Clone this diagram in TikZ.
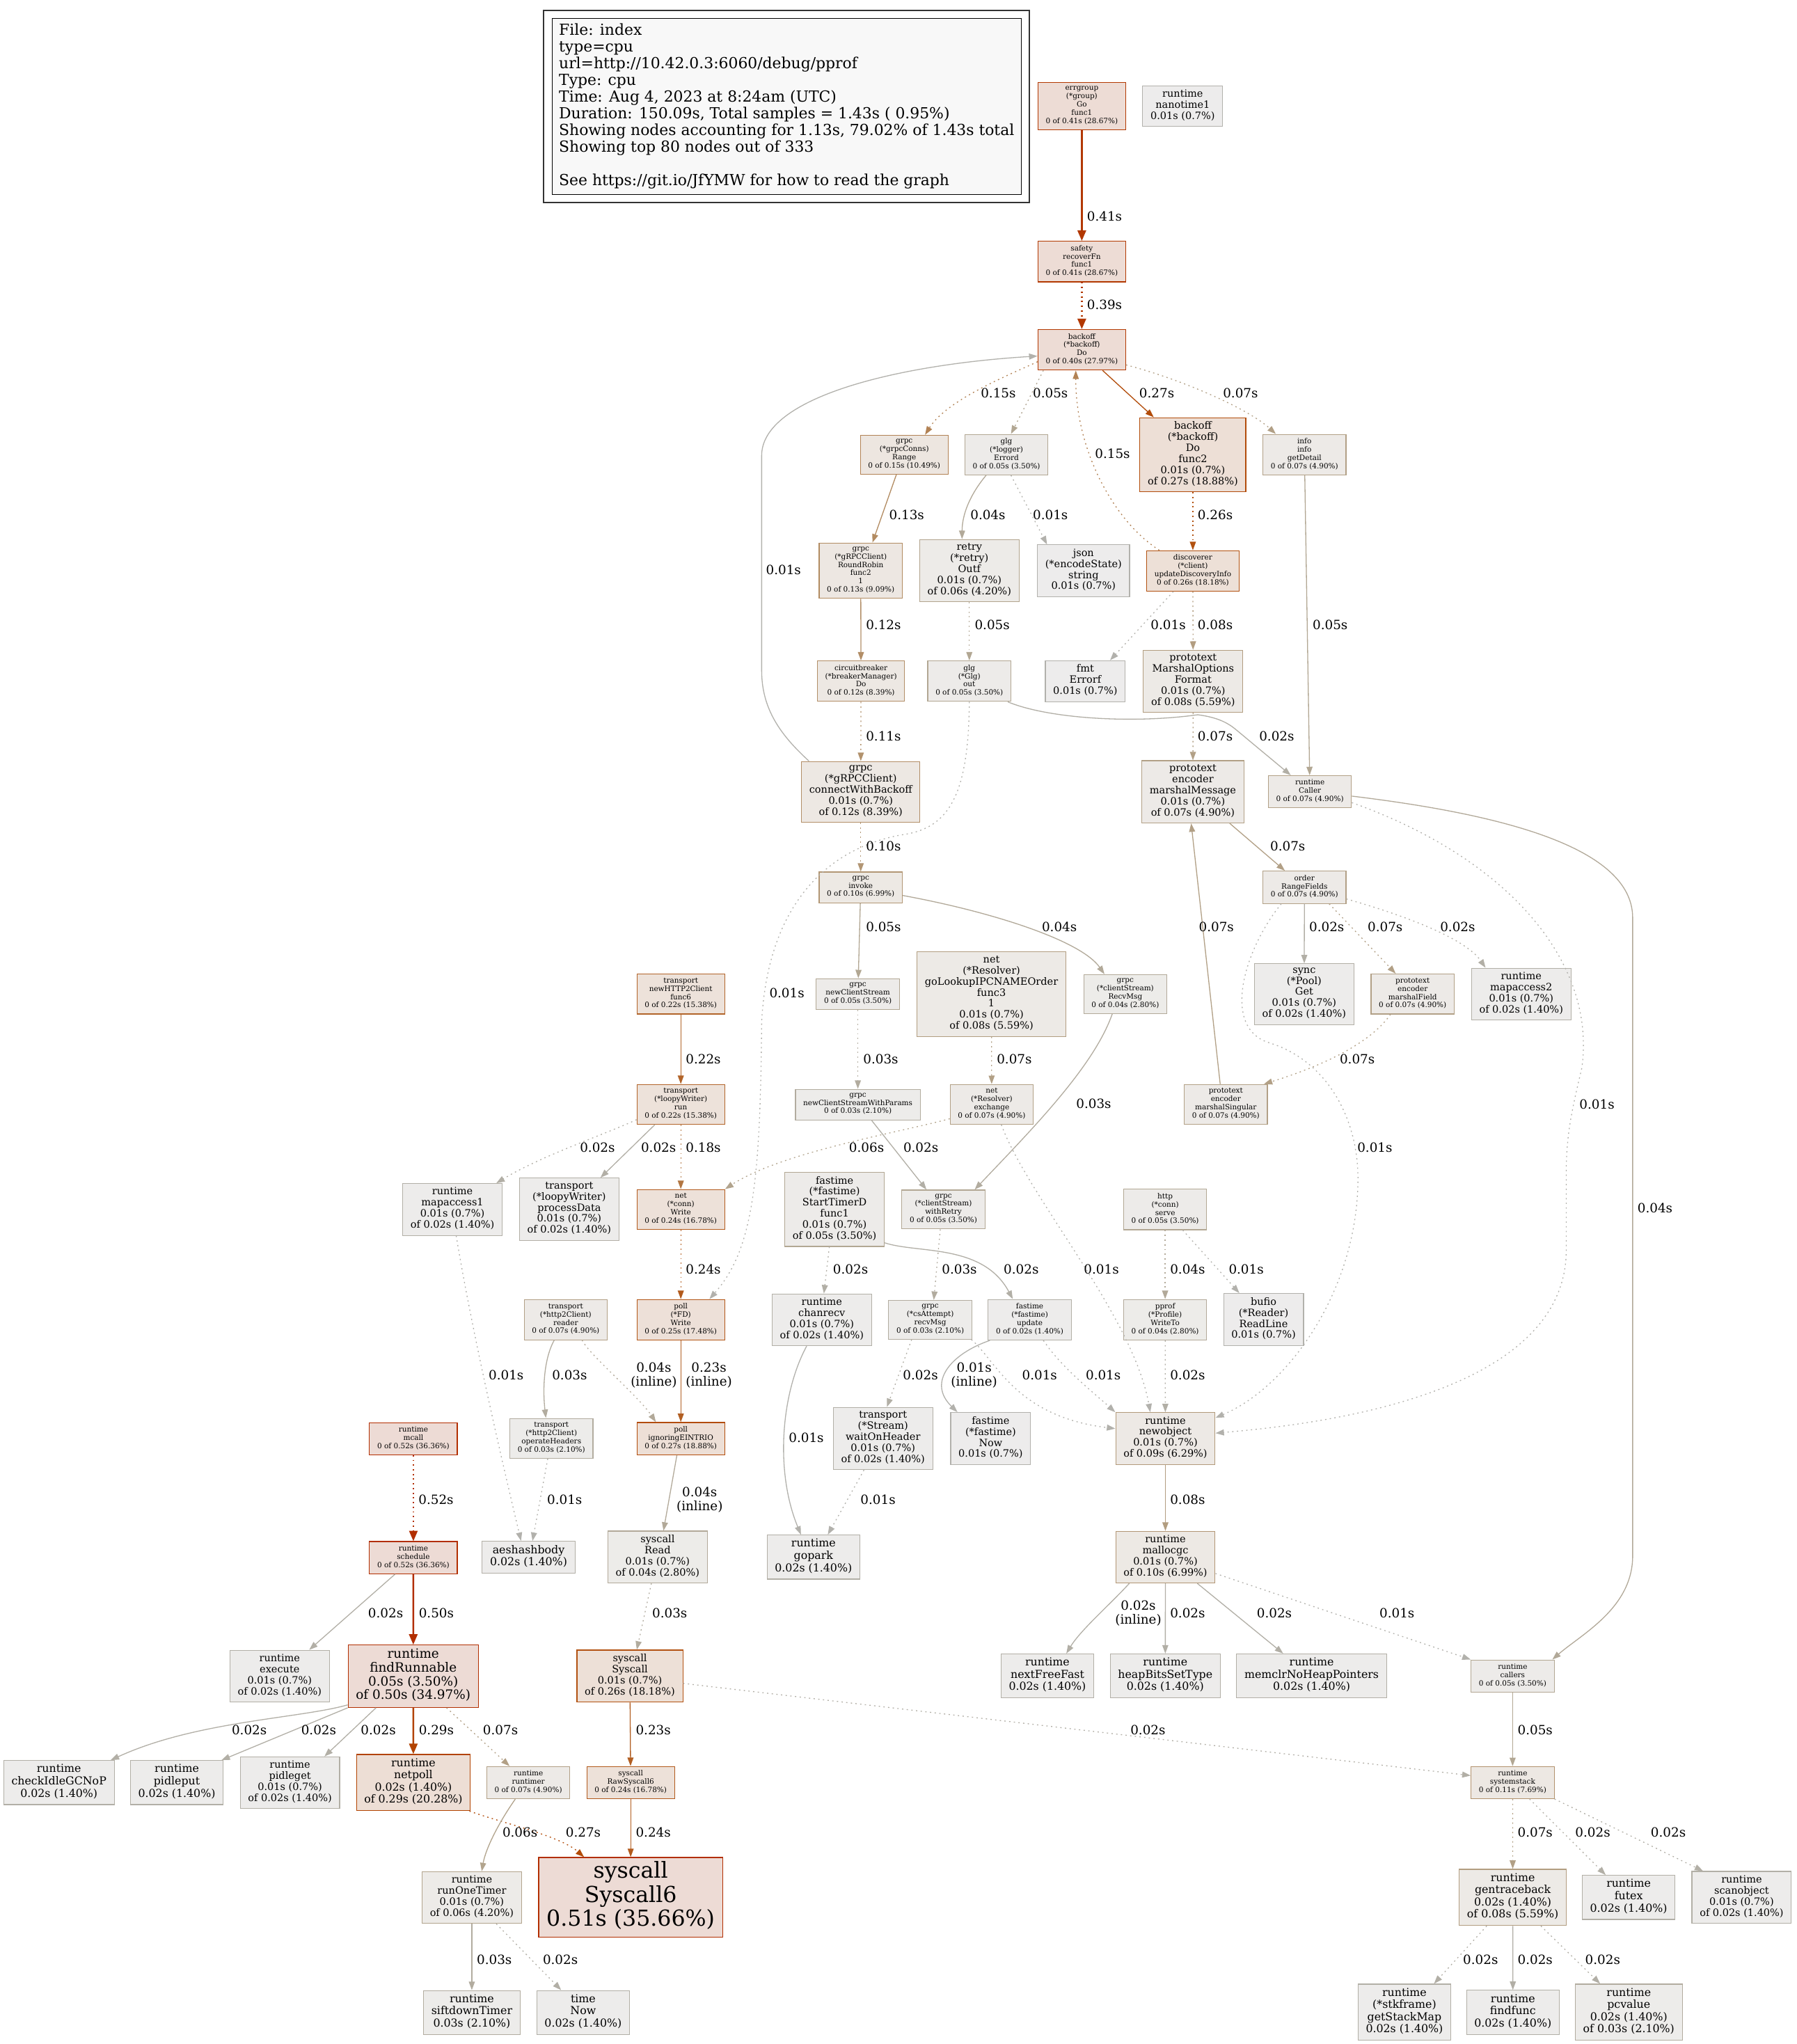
\documentclass[tikz,border=0pt]{standalone}
\usepackage{fontspec}
\setmainfont{DejaVu Serif}
\usetikzlibrary{arrows.meta,fit}

% heat colours: ln = border / edge, bg = fill, named by share of total
\definecolor{ln36}{HTML}{B22E00} \definecolor{bg36}{HTML}{EDDBD5}
\definecolor{ln28}{HTML}{B23800} \definecolor{bg28}{HTML}{EDDCD5}
\definecolor{ln20}{HTML}{B24300} \definecolor{bg20}{HTML}{EDDED5}
\definecolor{ln19}{HTML}{B24C0A} \definecolor{bg19}{HTML}{EDDFD6}
\definecolor{ln18}{HTML}{B25110} \definecolor{bg18}{HTML}{EDE0D7}
\definecolor{ln17}{HTML}{B25616} \definecolor{bg17}{HTML}{EDE0D8}
\definecolor{ln16}{HTML}{B25A1C} \definecolor{bg16}{HTML}{EDE1D9}
\definecolor{ln16b}{HTML}{B25F23}
\definecolor{ln15}{HTML}{B26429} \definecolor{bg15}{HTML}{EDE2DA}
\definecolor{ln12}{HTML}{B27642}
\definecolor{ln10}{HTML}{B28254} \definecolor{bg10}{HTML}{EDE6E0}
\definecolor{ln9}{HTML}{B28B61}  \definecolor{bg9}{HTML}{EDE7E2}
\definecolor{ln8}{HTML}{B28E67}  \definecolor{bg8}{HTML}{EDE8E3}
\definecolor{ln7h}{HTML}{B2926D} \definecolor{bg7h}{HTML}{EDE8E3}
\definecolor{ln7}{HTML}{B29674}  \definecolor{bg7}{HTML}{EDE9E4}
\definecolor{ln6}{HTML}{B29A7A}  \definecolor{bg6}{HTML}{EDE9E5}
\definecolor{ln5h}{HTML}{B29D80} \definecolor{bg5h}{HTML}{EDEAE6}
\definecolor{ln5}{HTML}{B2A086}  \definecolor{bg5}{HTML}{EDEAE7}
\definecolor{ln4}{HTML}{B2A48D}  \definecolor{bg4}{HTML}{EDEBE8}
\definecolor{ln3}{HTML}{B2A793}  \definecolor{bg3}{HTML}{EDEBE9}
\definecolor{ln2h}{HTML}{B2A999} \definecolor{bg2h}{HTML}{EDECE9}
\definecolor{ln2}{HTML}{B2AC9F}  \definecolor{bg2}{HTML}{EDECEA}
\definecolor{ln1}{HTML}{B2AFA6}  \definecolor{bg1}{HTML}{EDECEB}
\definecolor{ln0}{HTML}{B2B1AC}  \definecolor{bg0}{HTML}{EDECEC}
\definecolor{legfill}{HTML}{F8F8F8}

\tikzset{
  fn/.style = {rectangle, draw=ln#1, fill=bg#1, line width=.6pt, align=center,
               inner xsep=6pt, inner ysep=3pt,
               execute at begin node=\strut, execute at end node=\strut},
  fs8/.style = {font=\fontsize{5.6}{6.33}\selectfont},
  fs11/.style = {font=\fontsize{7.75}{8.5}\selectfont},
  fs12/.style = {font=\fontsize{8.45}{9.4}\selectfont},
  fs14/.style = {font=\fontsize{9.85}{10.5}\selectfont},
  fs24/.style = {font=\fontsize{16.9}{18.5}\selectfont},
  call/.style = {draw=ln#1, line width=.7pt, -{Triangle[length=6.5pt,width=4.6pt]}},
  heavy/.style = {line width=1.4pt, -{Triangle[length=8pt,width=6.4pt]}},
  resid/.style = {dash pattern=on 1pt off 2.6pt},
  elab/.style = {anchor=west, inner sep=0pt, align=center,
                 font=\fontsize{9.8}{10.8}\selectfont},
  legendbox/.style = {draw=black, line width=.6pt, fill=legfill, align=left,
                 minimum width=360.4pt, minimum height=134.9pt, inner sep=0pt,
                 font=\fontsize{11.7}{12.85}\selectfont},
  cluster/.style = {draw=black!80, line width=1pt, inner sep=6pt},
}

\begin{document}
\begin{tikzpicture}[x=1pt,y=-1pt]
\path[use as bounding box, fill=white] (0,0) rectangle (1380,1570);

% legend
\node[legendbox] (legend) at (604.2,81.75) {File: index\\type=cpu\\url=http://10.42.0.3:6060/debug/pprof\\Type: cpu\\Time: Aug 4, 2023 at 8:24am (UTC)\\Duration: 150.09s, Total samples = 1.43s (\ 0.95\%)\\Showing nodes accounting for 1.13s, 79.02\% of 1.43s total\\Showing top 80 nodes out of 333\\[12.85pt]See https://git.io/JfYMW for how to read the graph};
\node[cluster, fit=(legend)] (legendframe) {};

% nodes
\node[fn=28, fs8] (errg) at (830.9,81.6) {errgroup\\(*group)\\Go\\func1\\0 of 0.41s (28.67\%)};
\node[fn=0, fs11] (nanot) at (908.4,81.6) {runtime\\nanotime1\\0.01s (0.7\%)};
\node[fn=28, fs8] (safe) at (830.9,200.9) {safety\\recoverFn\\func1\\0 of 0.41s (28.67\%)};
\node[fn=28, fs8] (bkdo) at (830.9,268.7) {backoff\\(*backoff)\\Do\\0 of 0.40s (27.97\%)};
\node[fn=10, fs8] (conns) at (694.5,349.2) {grpc\\(*grpcConns)\\Range\\0 of 0.15s (10.49\%)};
\node[fn=3, fs8] (errord) at (773.0,349.2) {glg\\(*logger)\\Errord\\0 of 0.05s (3.50\%)};
\node[fn=19, fs11] (func2) at (916.2,349.3) {backoff\\(*backoff)\\Do\\func2\\0.01s (0.7\%)\\of 0.27s (18.88\%)};
\node[fn=5, fs8] (getdet) at (1001.9,349.2) {info\\info\\getDetail\\0 of 0.07s (4.90\%)};
\node[fn=9, fs8] (rrobin) at (661.1,438.3) {grpc\\(*gRPCClient)\\RoundRobin\\func2\\1\\0 of 0.13s (9.09\%)};
\node[fn=4, fs11] (outf) at (744.5,438.3) {retry\\(*retry)\\Outf\\0.01s (0.7\%)\\of 0.06s (4.20\%)};
\node[fn=0, fs11] (json) at (832.2,438.4) {json\\(*encodeState)\\string\\0.01s (0.7\%)};
\node[fn=18, fs8] (disc) at (916.2,438.5) {discoverer\\(*client)\\updateDiscoveryInfo\\0 of 0.26s (18.18\%)};
\node[fn=8, fs8] (cbrk) at (661.3,523.2) {circuitbreaker\\(*breakerManager)\\Do\\0 of 0.12s (8.39\%)};
\node[fn=3, fs8] (glgout) at (744.5,523.2) {glg\\(*Glg)\\out\\0 of 0.05s (3.50\%)};
\node[fn=0, fs11] (errorf) at (833.6,523.2) {fmt\\Errorf\\0.01s (0.7\%)};
\node[fn=5h, fs11] (mfmt) at (916.4,523.3) {prototext\\MarshalOptions\\Format\\0.01s (0.7\%)\\of 0.08s (5.59\%)};
\node[fn=8, fs11] (cwb) at (661.1,608.2) {grpc\\(*gRPCClient)\\connectWithBackoff\\0.01s (0.7\%)\\of 0.12s (8.39\%)};
\node[fn=5, fs11] (mmsg) at (916.2,608.2) {prototext\\encoder\\marshalMessage\\0.01s (0.7\%)\\of 0.07s (4.90\%)};
\node[fn=5, fs8] (caller) at (1006.1,608.1) {runtime\\Caller\\0 of 0.07s (4.90\%)};
\node[fn=7, fs8] (invoke) at (661.1,681.6) {grpc\\invoke\\0 of 0.10s (6.99\%)};
\node[fn=5, fs8] (rfields) at (1001.9,681.5) {order\\RangeFields\\0 of 0.07s (4.90\%)};
\node[fn=15, fs8] (newhttp) at (522.9,763.5) {transport\\newHTTP2Client\\func6\\0 of 0.22s (15.38\%)};
\node[fn=3, fs8] (ncs) at (658.9,763.5) {grpc\\newClientStream\\0 of 0.05s (3.50\%)};
\node[fn=5h, fs11] (golook) at (761.5,763.6) {net\\(*Resolver)\\goLookupIPCNAMEOrder\\func3\\1\\0.01s (0.7\%)\\of 0.08s (5.59\%)};
\node[fn=2h, fs8] (recvmsg) at (864.3,763.5) {grpc\\(*clientStream)\\RecvMsg\\0 of 0.04s (2.80\%)};
\node[fn=1, fs11] (poolget) at (1001.7,763.6) {sync\\(*Pool)\\Get\\0.01s (0.7\%)\\of 0.02s (1.40\%)};
\node[fn=5, fs8] (mfield) at (1085.0,763.5) {prototext\\encoder\\marshalField\\0 of 0.07s (4.90\%)};
\node[fn=1, fs11] (mapacc2) at (1168.4,763.5) {runtime\\mapaccess2\\0.01s (0.7\%)\\of 0.02s (1.40\%)};
\node[fn=15, fs8] (loopy) at (522.9,848.3) {transport\\(*loopyWriter)\\run\\0 of 0.22s (15.38\%)};
\node[fn=2, fs8] (ncswp) at (658.9,848.4) {grpc\\newClientStreamWithParams\\0 of 0.03s (2.10\%)};
\node[fn=5, fs8] (exch) at (761.7,848.3) {net\\(*Resolver)\\exchange\\0 of 0.07s (4.90\%)};
\node[fn=5, fs8] (msing) at (941.5,848.3) {prototext\\encoder\\marshalSingular\\0 of 0.07s (4.90\%)};
\node[fn=1, fs11] (mapacc1) at (347.5,929.0) {runtime\\mapaccess1\\0.01s (0.7\%)\\of 0.02s (1.40\%)};
\node[fn=1, fs11] (pdata) at (437.2,928.8) {transport\\(*loopyWriter)\\processData\\0.01s (0.7\%)\\of 0.02s (1.40\%)};
\node[fn=16, fs8] (connw) at (522.9,929.0) {net\\(*conn)\\Write\\0 of 0.24s (16.78\%)};
\node[fn=3, fs11] (stimer) at (641.0,928.9) {fastime\\(*fastime)\\StartTimerD\\func1\\0.01s (0.7\%)\\of 0.05s (3.50\%)};
\node[fn=3, fs8] (wretry) at (724.6,929.0) {grpc\\(*clientStream)\\withRetry\\0 of 0.05s (3.50\%)};
\node[fn=3, fs8] (serve) at (894.9,929.0) {http\\(*conn)\\serve\\0 of 0.05s (3.50\%)};
\node[fn=5, fs8] (reader) at (434.5,1013.7) {transport\\(*http2Client)\\reader\\0 of 0.07s (4.90\%)};
\node[fn=17, fs8] (fdwrite) at (522.9,1013.7) {poll\\(*FD)\\Write\\0 of 0.25s (17.48\%)};
\node[fn=1, fs11] (chanrecv) at (631.2,1013.7) {runtime\\chanrecv\\0.01s (0.7\%)\\of 0.02s (1.40\%)};
\node[fn=2, fs8] (csatt) at (714.5,1013.7) {grpc\\(*csAttempt)\\recvMsg\\0 of 0.03s (2.10\%)};
\node[fn=1, fs8] (update) at (790.9,1013.7) {fastime\\(*fastime)\\update\\0 of 0.02s (1.40\%)};
\node[fn=2h, fs8] (writeto) at (894.9,1013.7) {pprof\\(*Profile)\\WriteTo\\0 of 0.04s (2.80\%)};
\node[fn=0, fs11] (readline) at (970.5,1013.5) {bufio\\(*Reader)\\ReadLine\\0.01s (0.7\%)};
\node[fn=36, fs8] (mcall) at (317.5,1105.0) {runtime\\mcall\\0 of 0.52s (36.36\%)};
\node[fn=2, fs8] (ophdr) at (423.5,1104.8) {transport\\(*http2Client)\\operateHeaders\\0 of 0.03s (2.10\%)};
\node[fn=19, fs8] (eintr) at (522.9,1105.0) {poll\\ignoringEINTRIO\\0 of 0.27s (18.88\%)};
\node[fn=1, fs11] (waithdr) at (678.2,1104.9) {transport\\(*Stream)\\waitOnHeader\\0.01s (0.7\%)\\of 0.02s (1.40\%)};
\node[fn=0, fs11] (fnow) at (760.9,1104.9) {fastime\\(*fastime)\\Now\\0.01s (0.7\%)};
\node[fn=6, fs11] (newobj) at (895.1,1104.9) {runtime\\newobject\\0.01s (0.7\%)\\of 0.09s (6.29\%)};
\node[fn=36, fs8] (sched) at (317.5,1196.4) {runtime\\schedule\\0 of 0.52s (36.36\%)};
\node[fn=1, fs12] (aeshash) at (406.0,1196.2) {aeshashbody\\0.02s (1.40\%)};
\node[fn=2h, fs11] (sysread) at (505.1,1196.0) {syscall\\Read\\0.01s (0.7\%)\\of 0.04s (2.80\%)};
\node[fn=1, fs12] (gopark) at (624.8,1196.0) {runtime\\gopark\\0.02s (1.40\%)};
\node[fn=7, fs11] (mallocgc) at (895.1,1196.0) {runtime\\mallocgc\\0.01s (0.7\%)\\of 0.10s (6.99\%)};
\node[fn=1, fs11] (execute) at (214.8,1287.4) {runtime\\execute\\0.01s (0.7\%)\\of 0.02s (1.40\%)};
\node[fn=36, fs14] (findrun) at (317.4,1287.5) {runtime\\findRunnable\\0.05s (3.50\%)\\of 0.50s (34.97\%)};
\node[fn=18, fs11] (syscall) at (483.8,1287.4) {syscall\\Syscall\\0.01s (0.7\%)\\of 0.26s (18.18\%)};
\node[fn=1, fs12] (nextfree) at (804.5,1287.3) {runtime\\nextFreeFast\\0.02s (1.40\%)};
\node[fn=1, fs12] (heapbits) at (895.0,1287.3) {runtime\\heapBitsSetType\\0.02s (1.40\%)};
\node[fn=1, fs12] (memclr) at (1007.4,1287.3) {runtime\\memclrNoHeapPointers\\0.02s (1.40\%)};
\node[fn=3, fs8] (callers) at (1161.8,1287.3) {runtime\\callers\\0 of 0.05s (3.50\%)};
\node[fn=1, fs12] (checkidle) at (45.3,1369.2) {runtime\\checkIdleGCNoP\\0.02s (1.40\%)};
\node[fn=1, fs12] (pidleput) at (135.8,1369.2) {runtime\\pidleput\\0.02s (1.40\%)};
\node[fn=1, fs11] (pidleget) at (222.7,1369.3) {runtime\\pidleget\\0.01s (0.7\%)\\of 0.02s (1.40\%)};
\node[fn=20, fs12] (netpoll) at (317.5,1369.2) {runtime\\netpoll\\0.02s (1.40\%)\\of 0.29s (20.28\%)};
\node[fn=5, fs8] (runtimer) at (405.8,1369.2) {runtime\\runtimer\\0 of 0.07s (4.90\%)};
\node[fn=16, fs8] (raw6) at (484.4,1369.2) {syscall\\RawSyscall6\\0 of 0.24s (16.78\%)};
\node[fn=7h, fs8] (sysstack) at (1161.8,1369.2) {runtime\\systemstack\\0 of 0.11s (7.69\%)};
\node[fn=4, fs11] (runone) at (362.4,1457.5) {runtime\\runOneTimer\\0.01s (0.7\%)\\of 0.06s (4.20\%)};
\node[fn=36, fs24] (sys6) at (484.4,1457.4) {syscall\\Syscall6\\0.51s (35.66\%)};
\node[fn=5h, fs12] (gentrace) at (1161.9,1457.4) {runtime\\gentraceback\\0.02s (1.40\%)\\of 0.08s (5.59\%)};
\node[fn=1, fs12] (futex) at (1250.9,1457.4) {runtime\\futex\\0.02s (1.40\%)};
\node[fn=1, fs11] (scanobj) at (1337.7,1457.3) {runtime\\scanobject\\0.01s (0.7\%)\\of 0.02s (1.40\%)};
\node[fn=2, fs12] (siftdown) at (362.4,1545.8) {runtime\\siftdownTimer\\0.03s (2.10\%)};
\node[fn=1, fs12] (timenow) at (447.9,1545.8) {time\\Now\\0.02s (1.40\%)};
\node[fn=1, fs12] (getstack) at (1078.7,1545.6) {runtime\\(*stkframe)\\getStackMap\\0.02s (1.40\%)};
\node[fn=1, fs12] (findfunc) at (1162.0,1545.7) {runtime\\findfunc\\0.02s (1.40\%)};
\node[fn=2, fs12] (pcvalue) at (1251.0,1545.6) {runtime\\pcvalue\\0.02s (1.40\%)\\of 0.03s (2.10\%)};

% calls
\draw[call=28, heavy] (errg) -- (safe) node[elab] at (834.2,166.4) {0.41s};
\draw[call=28, heavy, resid] (safe) -- (bkdo) node[elab] at (834.2,233.8) {0.39s};
\draw[call=10, resid] (bkdo.195) .. controls (780,286) and (728,306) .. ([xshift=16pt]conns.north) node[elab] at (753,302) {0.15s};
\draw[call=3, resid] ([xshift=4.5pt]bkdo.south west) -- ([xshift=3.5pt]errord.north) node[elab] at (793,302) {0.05s};
\draw[call=19] ([xshift=16pt]bkdo.south) -- ([xshift=-30pt]func2.north) node[elab] at (874.7,302) {0.27s};
\draw[call=5, resid] ([yshift=-11.6pt]bkdo.east) .. controls (910,292) and (960,315) .. ([xshift=-22pt]getdet.north) node[elab] at (939,302) {0.07s};
\draw[call=0] ([xshift=6pt]cwb.north west) .. controls (600,565) and (585,545) .. (585,515) -- (585,350) .. controls (585,305) and (690,280) .. (bkdo.188) node[elab] at (588,437.6) {0.01s};
\draw[call=10, resid] ([xshift=10pt]disc.north west) .. controls (855,400) and (826,345) .. ([xshift=-4.6pt]bkdo.south) node[elab] at (840.7,348.4) {0.15s};
\draw[call=9] ([xshift=-6pt]conns.south) -- ([xshift=9pt]rrobin.north) node[elab] at (682.6,395.5) {0.13s};
\draw[call=2h] ([xshift=-15.6pt]errord.south) .. controls (745,380) and (739,395) .. ([xshift=-5.6pt]outf.north) node[elab] at (745,395.5) {0.04s};
\draw[call=0, resid] ([xshift=3.5pt]errord.south) -- ([xshift=-28pt]json.north) node[elab] at (793,395.5) {0.01s};
\draw[call=18, resid] (func2) -- (disc) node[elab] at (919.6,395.5) {0.26s};
\draw[call=3] (getdet) -- (caller) node[elab] at (1007.9,480.1) {0.05s};
\draw[call=8] (rrobin) -- (cbrk) node[elab] at (664.8,480.1) {0.12s};
\draw[call=3, resid] (outf) -- (glgout) node[elab] at (748.3,480.1) {0.05s};
\draw[call=0, resid] ([xshift=-15pt]disc.south) -- ([xshift=19pt]errorf.north) node[elab] at (883.5,480.1) {0.01s};
\draw[call=5h, resid] (disc) -- (mfmt) node[elab] at (919.6,480.1) {0.08s};
\draw[call=7h, resid] (cbrk) -- (cwb) node[elab] at (664.8,565.2) {0.11s};
\draw[call=5, resid] (mfmt) -- (mmsg) node[elab] at (919.6,565.2) {0.07s};
\draw[call=1] ([xshift=-2.7pt]glgout.south east) .. controls (805,552) and (870,556) .. (920,549) .. controls (935,551) and (943,555) .. (950,561) -- ([xshift=-14.7pt]caller.north) node[elab] at (966.8,565.2) {0.02s};
\draw[call=0, resid] (glgout.south) .. controls (744,612) and (728,636) .. (694,641) .. controls (640,650) and (590,690) .. (585,785) .. controls (584,910) and (578,960) .. ([xshift=22pt]fdwrite.north) node[elab] at (590.6,762.5) {0.01s};
\draw[call=5] ([xshift=28.3pt]mmsg.south) -- ([xshift=-15pt]rfields.north) node[elab] at (975.3,649.8) {0.07s};
\draw[call=7, resid] (cwb) -- (invoke) node[elab] at (664.8,649.8) {0.10s};
\draw[call=3] (invoke) -- (ncs) node[elab] at (664.8,711.9) {0.05s};
\draw[call=2h] ([yshift=-6.2pt]invoke.east) .. controls (760,700) and (830,722) .. ([xshift=-16pt]recvmsg.north) node[elab] at (799.9,711.9) {0.04s};
\draw[call=5] ([xshift=-4.3pt]msing.north) -- ([xshift=-1.3pt]mmsg.south) node[elab] at (920.5,711.9) {0.07s};
\draw[call=1] (rfields) -- (poolget) node[elab] at (1005.2,711.9) {0.02s};
\draw[call=5, resid] ([xshift=19pt]rfields.south) -- ([xshift=-13pt]mfield.north) node[elab] at (1050.1,711.9) {0.07s};
\draw[call=1, resid] ([yshift=-9pt]rfields.east) .. controls (1075,702) and (1125,720) .. ([xshift=-27.4pt]mapacc2.north) node[elab] at (1105.8,711.9) {0.02s};
\draw[call=0, resid] ([xshift=-17.8pt]rfields.south) .. controls (955,730) and (938,790) .. (975,801) .. controls (1020,815) and (1043,860) .. (1043,905) .. controls (1043,990) and (990,1065) .. ([yshift=15.9pt]newobj.east) node[elab] at (1042.2,881.3) {0.01s};
\draw[call=2h] ([yshift=-3.4pt]caller.east) .. controls (1150,625) and (1254,650) .. (1254,705) -- (1254,1195) .. controls (1254,1235) and (1215,1255) .. ([xshift=30.5pt]callers.north) node[elab] at (1257.4,927.8) {0.04s};
\draw[call=0, resid] ([yshift=-8.4pt]caller.east) .. controls (1160,660) and (1226,740) .. (1215,820) .. controls (1208,850) and (1203,870) .. (1203,900) -- (1203,960) .. controls (1203,1075) and (1000,1095) .. ([yshift=4.1pt]newobj.east) node[elab] at (1212.8,848) {0.01s};
\draw[call=15] (newhttp) -- (loopy) node[elab] at (526.4,813.7) {0.22s};
\draw[call=2, resid] (ncs) -- (ncswp) node[elab] at (662.7,813.7) {0.03s};
\draw[call=5, resid] (golook) -- (exch) node[elab] at (765.3,813.7) {0.07s};
\draw[call=2] ([xshift=-10pt]recvmsg.south) .. controls (840,820) and (790,870) .. ([xshift=24pt]wretry.north) node[elab] at (826.3,847.7) {0.03s};
\draw[call=5, resid] ([xshift=-17pt]mfield.south) .. controls (1050,805) and (1005,822) .. ([xshift=-3pt]msing.north east) node[elab] at (1028.7,813.7) {0.07s};
\draw[call=1, resid] ([yshift=-11.7pt]loopy.west) .. controls (468,870) and (415,888) .. ([xshift=33.7pt]mapacc1.north) node[elab] at (445.1,881.3) {0.02s};
\draw[call=1] ([xshift=-20pt]loopy.south) -- ([xshift=24pt]pdata.north) node[elab] at (492,881.3) {0.02s};
\draw[call=12, resid] (loopy) -- (connw) node[elab] at (526.4,881.3) {0.18s};
\draw[call=4, resid] ([yshift=-11pt]exch.west) .. controls (690,870) and (600,885) .. (connw.north east) node[elab] at (651.8,881.3) {0.06s};
\draw[call=1] ([xshift=10.5pt]ncswp.south) -- ([xshift=-13pt]wretry.north) node[elab] at (693.5,881.3) {0.02s};
\draw[call=16, resid] (connw) -- (fdwrite) node[elab] at (526.4,975.1) {0.24s};
\draw[call=0, resid] ([xshift=7.4pt]exch.south) .. controls (790,920) and (870,1010) .. ([xshift=-11.6pt]newobj.north) node[elab] at (832.2,975.1) {0.01s};
\draw[call=1, resid] ([xshift=-4pt]stimer.south) -- ([xshift=1.6pt]chanrecv.north) node[elab] at (639.5,975.1) {0.02s};
\draw[call=1] ([yshift=-25.7pt]stimer.east) .. controls (705,963) and (755,955) .. ([xshift=-13pt]update.north) node[elab] at (770.6,975.1) {0.02s};
\draw[call=2, resid] ([xshift=-2.4pt]wretry.south) -- ([xshift=2.7pt]csatt.north) node[elab] at (723.1,975.1) {0.03s};
\draw[call=2h, resid] (serve) -- (writeto) node[elab] at (898.4,975.1) {0.04s};
\draw[call=0, resid] ([xshift=13.5pt]serve.south) -- ([xshift=-18.6pt]readline.north) node[elab] at (943.4,975.1) {0.01s};
\draw[call=16b] (fdwrite) -- (eintr) node[elab] at (526.4,1056.3) {0.23s\\(inline)};
\draw[call=2h, resid] ([xshift=12.6pt]reader.south) .. controls (452,1040) and (490,1072) .. ([xshift=-19.1pt]eintr.north) node[elab] at (484.1,1056.3) {0.04s\\(inline)};
\draw[call=2] ([xshift=-8.8pt]reader.south) .. controls (417,1045) and (417,1070) .. ([xshift=-4.2pt]ophdr.north) node[elab] at (423.7,1056.2) {0.03s};
\draw[call=0, resid] ([xshift=2.9pt]mapacc1.south) .. controls (362,1020) and (385,1120) .. ([xshift=-5.8pt]aeshash.north) node[elab] at (375,1056.2) {0.01s};
\draw[call=0, resid] ([xshift=-2.8pt]ophdr.south) -- ([xshift=3pt]aeshash.north) node[elab] at (419.9,1152.1) {0.01s};
\draw[call=36, heavy, resid] (mcall) -- (sched) node[elab] at (320.8,1152.1) {0.52s};
\draw[call=2h] ([xshift=-3pt]eintr.south) -- ([xshift=4.5pt]sysread.north) node[elab] at (519.3,1152) {0.04s\\(inline)};
\draw[call=0] ([xshift=-11.6pt]chanrecv.south) .. controls (600,1070) and (595,1130) .. ([xshift=-9.6pt]gopark.north) node[elab] at (605.5,1104.2) {0.01s};
\draw[call=0, resid] ([xshift=-14.6pt]waithdr.south) -- ([xshift=11pt]gopark.north) node[elab] at (660.6,1152.1) {0.01s};
\draw[call=1, resid] ([xshift=-14.3pt]csatt.south) -- ([xshift=3pt]waithdr.north) node[elab] at (693.2,1056.2) {0.02s};
\draw[call=0, resid] ([xshift=-0.6pt]csatt.south east) .. controls (765,1045) and (780,1088) .. ([yshift=7.6pt]newobj.west) node[elab] at (784.7,1056.2) {0.01s};
\draw[call=0, resid] ([xshift=10.5pt]update.south) .. controls (815,1050) and (838,1068) .. (newobj.north west) node[elab] at (833.6,1056.2) {0.01s};
\draw[call=0] ([xshift=-30.6pt]update.south) .. controls (730,1040) and (712,1062) .. ([xshift=-25.5pt]fnow.north) node[elab] at (730.1,1056.3) {0.01s\\(inline)};
\draw[call=1, resid] (writeto) -- (newobj) node[elab] at (898.4,1056.2) {0.02s};
\draw[call=5h] (newobj) -- (mallocgc) node[elab] at (898.4,1152.1) {0.08s};
\draw[call=2, resid] ([xshift=-4.8pt]sysread.south) -- ([xshift=5.3pt]syscall.north) node[elab] at (500.6,1238.9) {0.03s};
\draw[call=1] ([xshift=-14pt]sched.south) -- ([xshift=22.7pt]execute.north) node[elab] at (282.4,1238.9) {0.02s};
\draw[call=36, heavy] (sched) -- (findrun) node[elab] at (321,1238.9) {0.50s};
\draw[call=1] ([xshift=-27.7pt]mallocgc.south) .. controls (852,1233) and (830,1252) .. ([xshift=14.5pt]nextfree.north) node[elab] at (856.2,1239.1) {0.02s\\(inline)};
\draw[call=1] (mallocgc) -- (heapbits) node[elab] at (898.4,1238.9) {0.02s};
\draw[call=1] ([xshift=24.5pt]mallocgc.south) -- ([xshift=-21.8pt]memclr.north) node[elab] at (965,1238.9) {0.02s};
\draw[call=0, resid] ([yshift=-12.6pt]mallocgc.east) -- (callers.north west) node[elab] at (1059.2,1238.9) {0.01s};
\draw[call=1] ([yshift=-22pt]findrun.west) .. controls (230,1320) and (150,1322) .. ([xshift=39.7pt]checkidle.north) node[elab] at (177.7,1328.7) {0.02s};
\draw[call=1] (findrun.south west) -- ([xshift=34.3pt]pidleput.north) node[elab] at (231,1328.7) {0.02s};
\draw[call=1] ([xshift=-28.6pt]findrun.south) -- ([xshift=26.5pt]pidleget.north) node[elab] at (276.8,1328.7) {0.02s};
\draw[call=20, heavy] (findrun) -- (netpoll) node[elab] at (321,1328.7) {0.29s};
\draw[call=5, resid] ([xshift=25.6pt]findrun.south) -- ([xshift=-14.4pt]runtimer.north) node[elab] at (370.6,1328.7) {0.07s};
\draw[call=16b] (syscall) -- (raw6) node[elab] at (488,1328.7) {0.23s};
\draw[call=1, resid] ([yshift=-5.6pt]syscall.east) -- ([yshift=5.4pt]sysstack.west) node[elab] at (867.9,1328.7) {0.02s};
\draw[call=3] (callers) -- (sysstack) node[elab] at (1165.3,1328.7) {0.05s};
\draw[call=19, resid] ([xshift=-1pt]netpoll.south east) .. controls (385,1400) and (430,1410) .. ([xshift=-35.8pt]sys6.north) node[elab] at (434.2,1407.6) {0.27s};
\draw[call=4] ([xshift=-10pt]runtimer.south) .. controls (383,1400) and (373,1420) .. ([xshift=7.6pt]runone.north) node[elab] at (385.6,1407.6) {0.06s};
\draw[call=16] (raw6) -- (sys6) node[elab] at (488,1407.6) {0.24s};
\draw[call=5, resid] (sysstack) -- (gentrace) node[elab] at (1165.3,1407.6) {0.07s};
\draw[call=1, resid] ([xshift=13pt]sysstack.south) -- ([xshift=-17.6pt]futex.north) node[elab] at (1209.6,1407.6) {0.02s};
\draw[call=1, resid] (sysstack.south east) -- ([xshift=-29.6pt]scanobj.north) node[elab] at (1267.6,1407.6) {0.02s};
\draw[call=2] (runone) -- (siftdown) node[elab] at (365.9,1505.2) {0.03s};
\draw[call=1, resid] ([xshift=18.8pt]runone.south) -- ([xshift=-16.9pt]timenow.north) node[elab] at (416.6,1505.2) {0.02s};
\draw[call=1, resid] ([xshift=-20pt]gentrace.south) -- ([xshift=22.7pt]getstack.north) node[elab] at (1123.4,1505.2) {0.02s};
\draw[call=1] (gentrace) -- (findfunc) node[elab] at (1165.3,1505.2) {0.02s};
\draw[call=1, resid] ([xshift=21.6pt]gentrace.south) -- ([xshift=-22pt]pcvalue.north) node[elab] at (1217.2,1505.2) {0.02s};
\end{tikzpicture}
\end{document}
